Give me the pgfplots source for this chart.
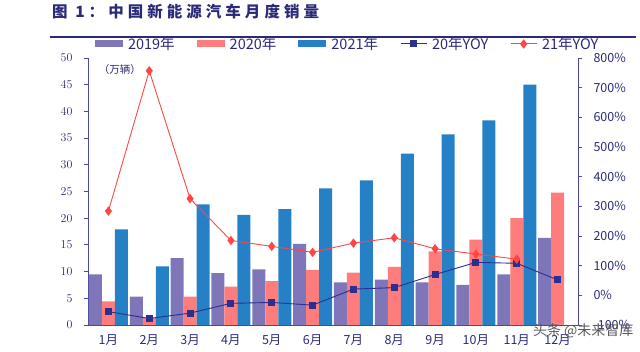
\documentclass[border=0pt]{standalone}
\usepackage{pgfplots}
\pgfplotsset{compat=1.18}
\usepackage{fontspec}
\setmainfont{Noto Sans CJK SC}
\definecolor{c19}{HTML}{7E76B8}
\definecolor{c20}{HTML}{FF7C7C}
\definecolor{c21}{HTML}{2680C6}
\definecolor{cy20}{HTML}{2B2F8F}
\definecolor{cy21}{HTML}{FF4646}
\definecolor{navy}{HTML}{2A2A78}
\definecolor{axc}{HTML}{4A4A9A}
\pgfplotsset{
  barlegend/.style={legend image code/.code={\fill[##1] (0pt,-3.5pt) rectangle (28pt,3.5pt);}},
  linelegend/.style={legend image code/.code={\draw[mark repeat=2,mark phase=2,##1] plot coordinates {(0pt,0pt)(13pt,0pt)(26pt,0pt)};}},
}
\begin{document}
\begin{tikzpicture}
\useasboundingbox (-88pt,-27pt) rectangle (552pt,325pt);
\node[anchor=west, font=\bfseries\fontsize{15.5}{16}\selectfont\addfontfeature{LetterSpace=26}, text=navy, inner sep=0pt] at (-36pt,313pt) {图 1：中国新能源汽车月度销量};
\draw[navy, line width=1.6pt] (-38pt,288pt) -- (548pt,288pt);
\begin{axis}[
  at={(0pt,0pt)}, anchor=south west,
  scale only axis, width=490pt, height=267pt,
  xmin=-0.5, xmax=11.5, ymin=0, ymax=50,
  ytick={0,5,...,50},
  axis y line*=left, axis x line*=bottom,
  axis line style={draw=axc, line width=0.9pt},
  ybar=0pt, bar width=13pt,
  xtick={0,...,11},
  xticklabels={1月,2月,3月,4月,5月,6月,7月,8月,9月,10月,11月,12月},
  x tick style={draw=none},
  y tick style={draw=axc, line width=0.8pt},
  major tick length=4pt,
  tick align=outside,
  tick label style={font=\fontsize{12.5}{13}\selectfont, text=navy},
  xticklabel style={yshift=-2pt},
  yticklabel style={xshift=-8pt},
  clip=false,
]
\addplot[fill=c19, draw=none] coordinates {(0,9.5)(1,5.3)(2,12.5)(3,9.7)(4,10.4)(5,15.2)(6,8.0)(7,8.5)(8,8.0)(9,7.5)(10,9.5)(11,16.3)};
\addplot[fill=c20, draw=none] coordinates {(0,4.4)(1,1.3)(2,5.3)(3,7.2)(4,8.2)(5,10.3)(6,9.8)(7,10.9)(8,13.8)(9,16.0)(10,20.0)(11,24.8)};
\addplot[fill=c21, draw=none] coordinates {(0,17.9)(1,11.0)(2,22.6)(3,20.6)(4,21.7)(5,25.6)(6,27.1)(7,32.1)(8,35.7)(9,38.3)(10,45.0)};
\node[anchor=north west, font=\fontsize{10.5}{11}\selectfont, text=navy] at (rel axis cs:0.015,0.99) {（万辆）};
\end{axis}
\begin{axis}[
  at={(0pt,0pt)}, anchor=south west,
  scale only axis, width=490pt, height=267pt,
  xmin=-0.5, xmax=11.5, ymin=-100, ymax=800,
  ytick={-100,0,...,800},
  axis y line*=right, axis x line=none,
  axis line style={draw=axc, line width=0.9pt},
  y tick style={draw=axc, line width=0.8pt},
  major tick length=4pt,
  tick align=outside,
  yticklabel={\pgfmathprintnumber[assume math mode=true]{\tick}\%},
  tick label style={font=\fontsize{12.5}{13}\selectfont, text=navy},
  yticklabel style={xshift=8pt},
  clip=false,
  legend columns=5,
  legend style={at={(0.53,1.0)}, anchor=south, yshift=3pt, draw=none, fill=none,
    font=\fontsize{14.5}{15}\selectfont, text=navy,
    /tikz/every even column/.append style={column sep=20pt}},
  linelegend,
]
\addlegendimage{barlegend, fill=c19, draw=none}
\addlegendimage{barlegend, fill=c20, draw=none}
\addlegendimage{barlegend, fill=c21, draw=none}
\addplot[color=cy20, line width=0.9pt, mark=square*, mark size=3pt, mark options={fill=cy20}] coordinates {(0,-55)(1,-78)(2,-60)(3,-27)(4,-24)(5,-33)(6,21)(7,26)(8,70)(9,111)(10,108)(11,52)};
\addplot[color=cy21, line width=0.9pt, mark=diamond*, mark size=4pt, mark options={fill=cy21}] coordinates {(0,284)(1,757)(2,326)(3,185)(4,165)(5,145)(6,176)(7,194)(8,157)(9,139)(10,122)};
\legend{\hspace{3pt}2019年,\hspace{3pt}2020年,\hspace{3pt}2021年,\hspace{3pt}20年YOY,\hspace{3pt}21年YOY}
\end{axis}
\node[anchor=east, font=\fontsize{14}{14}\selectfont, text=black!65] at (549pt,-6pt) {头条 @未来智库};
\end{tikzpicture}
\end{document}
